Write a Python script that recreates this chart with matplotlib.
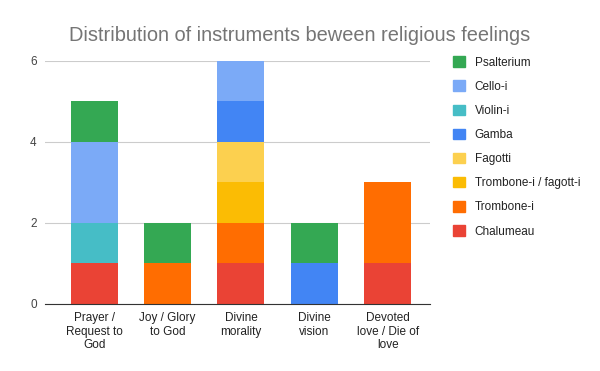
import numpy as np
import matplotlib.pyplot as plt
from matplotlib.patches import Patch

plt.rcParams['font.family'] = ['Liberation Sans', 'DejaVu Sans']

categories = ['Prayer /\nRequest to\nGod', 'Joy / Glory\nto God', 'Divine\nmorality',
              'Divine\nvision', 'Devoted\nlove / Die of\nlove']

# series from bottom of stack to top
series = ['Chalumeau', 'Trombone-i', 'Trombone-i / fagott-i', 'Fagotti',
          'Gamba', 'Violin-i', 'Cello-i', 'Psalterium']
chalumeau = [1, 0, 1, 0, 1]
trombone = [0, 1, 1, 0, 2]
trombone_fagott = [0, 0, 1, 0, 0]
fagotti = [0, 0, 1, 0, 0]
gamba = [0, 0, 1, 1, 0]
violin = [1, 0, 0, 0, 0]
cello = [2, 0, 1, 0, 0]
psalterium = [1, 1, 0, 1, 0]
values = [chalumeau, trombone, trombone_fagott, fagotti, gamba, violin, cello, psalterium]
colors = ['#EA4335', '#FF6D01', '#FBBC04', '#FCD04F', '#4285F4', '#46BDC6', '#7BAAF7', '#34A853']

fig = plt.figure(figsize=(6, 3.71), dpi=100)
ax = fig.add_axes([0.075, 0.1806, 0.642, 0.655])

x = np.arange(len(categories))
bottom = np.zeros(len(categories))
for name, vals, c in zip(series, values, colors):
    vals = np.array(vals, dtype=float)
    ax.bar(x, vals, bottom=bottom, width=0.64, color=c, label=name, zorder=3)
    bottom += vals

ax.set_ylim(0, 6)
ax.set_xlim(-0.67, 4.58)
ax.set_yticks([0, 2, 4, 6])
ax.set_xticks(x)
ax.set_xticklabels(categories, fontsize=8.5, color='#222222', linespacing=1.15)
ax.tick_params(axis='y', labelsize=8.5, labelcolor='#444444', length=0, pad=6)
ax.tick_params(axis='x', length=0, pad=6)
ax.grid(axis='y', color='#cccccc', linewidth=0.8, zorder=0)
for s in ['top', 'right', 'left']:
    ax.spines[s].set_visible(False)
ax.spines['bottom'].set_color('#333333')
ax.spines['bottom'].set_zorder(4)

fig.suptitle('Distribution of instruments beween religious feelings', x=0.5, y=0.93,
             fontsize=14.4, color='#757575')

handles = [Patch(color=c, label=n) for n, c in zip(series, colors)][::-1]
fig.legend(handles=handles, loc='upper left', bbox_to_anchor=(0.738, 0.877),
           frameon=False, fontsize=8.5, handlelength=1.0, handleheight=1.0,
           labelspacing=1.0, handletextpad=0.8, labelcolor='#222222')

fig.savefig('out.png')
